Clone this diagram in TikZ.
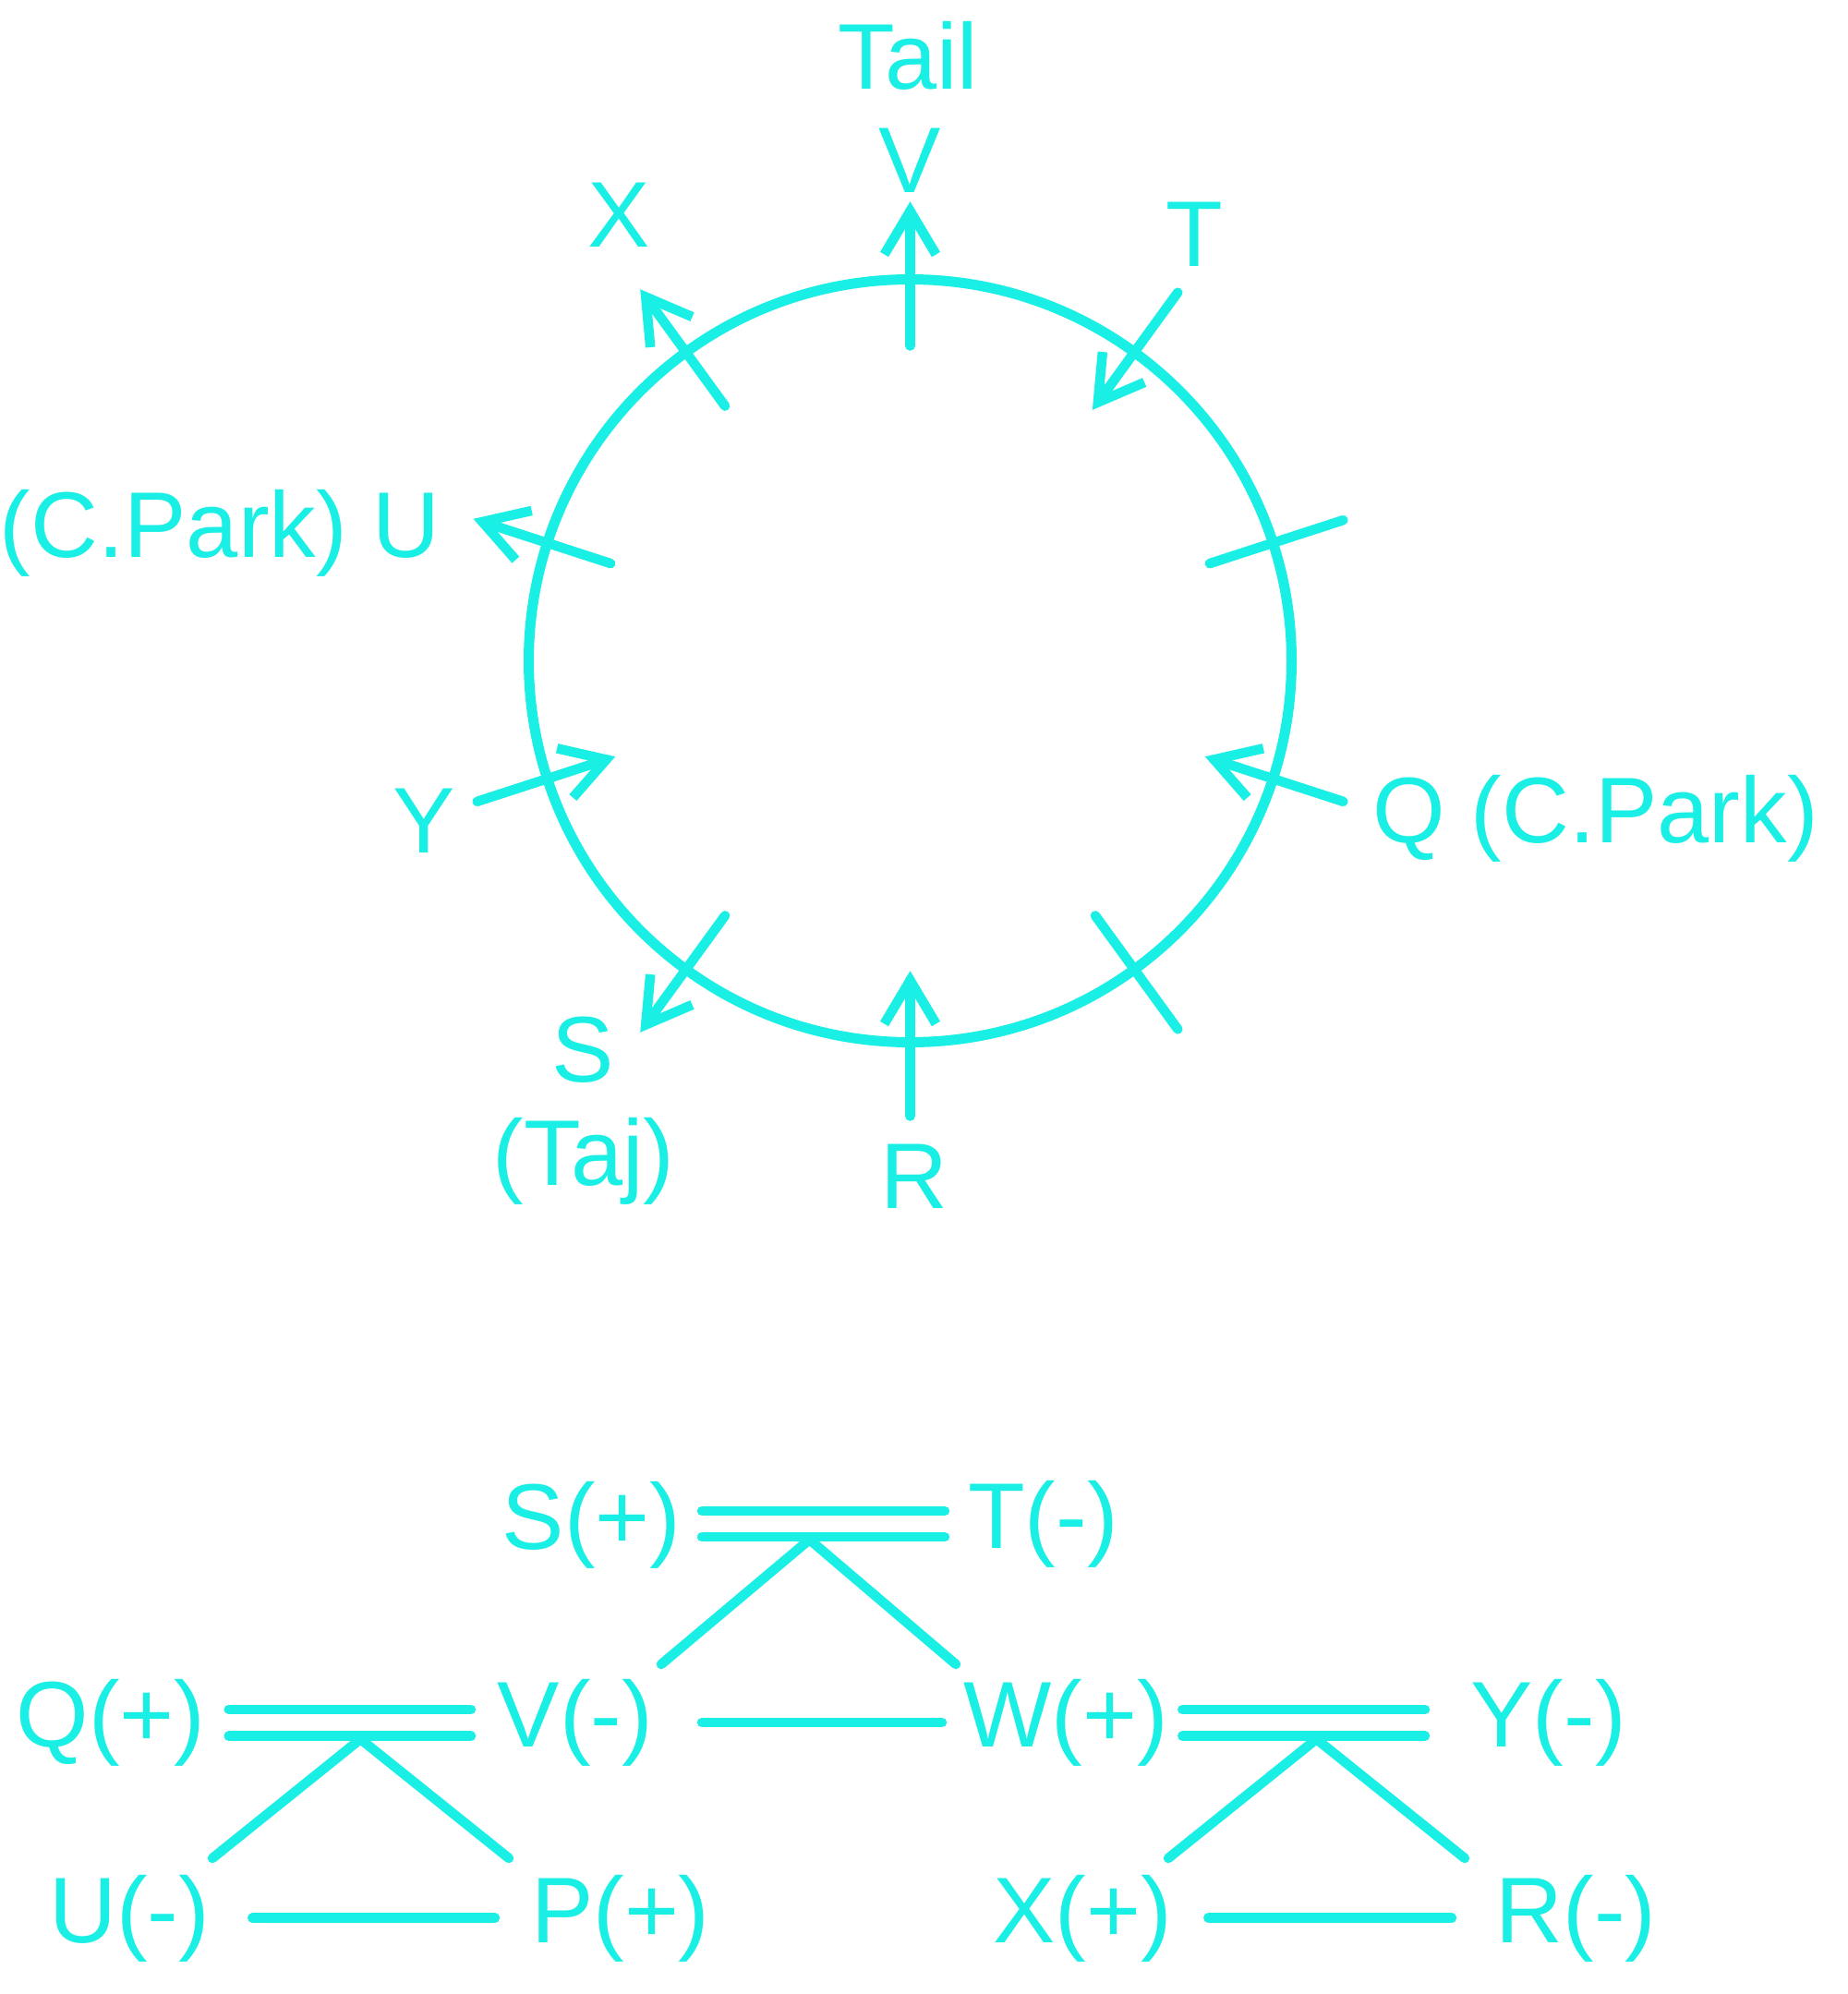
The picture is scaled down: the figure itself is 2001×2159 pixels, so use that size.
\documentclass[tikz,border=0pt]{standalone}
\usepackage{fontspec}
\setmainfont{Liberation Sans}
\usetikzlibrary{calc}
\definecolor{cy}{RGB}{26,239,230}
\begin{document}
\begin{tikzpicture}[x=1pt,y=-1pt,
  lbl/.style={text=cy, inner sep=0pt, anchor=base, font=\fontsize{101}{110}\selectfont},
  conn/.style={draw=cy, line width=10.5pt, line cap=round},
  ring/.style={draw=cy, line width=11pt},
  head/.style={draw=cy, line width=10.5pt, line cap=butt, line join=miter}]
\useasboundingbox (0,0) rectangle (2001,2159);

% ---------- circle with spokes ----------
\coordinate (O) at (985.5,715.5);
\draw[ring] (O) circle[radius=413];
\begin{scope}[shift={(O)}]
  % plain spokes
  \foreach \a in {18,-54}{
    \begin{scope}[rotate=\a]
      \draw[conn] (341,0) -- (493,0);
    \end{scope}}
  % outward arrows
  \foreach \a in {90,126,162,-126}{
    \begin{scope}[rotate=\a]
      \draw[conn] (341,0) -- (487,0);
      \draw[head] (440,28) -- (487,0) -- (440,-28);
    \end{scope}}
  % inward arrows
  \foreach \a in {54,-18,-90,-162}{
    \begin{scope}[rotate=\a]
      \draw[conn] (493,0) -- (346,0);
      \draw[head] (393,28) -- (346,0) -- (393,-28);
    \end{scope}}
\end{scope}

\node[lbl] (tail) at (983.5,97) {Tail};
\node[lbl] (cV) at (985.3,208.5) {V};
\node[lbl] (cX) at (670.5,268) {X};
\node[lbl] (cT) at (1293.5,288) {T};
\node[lbl, anchor=base east] (cU) at (477,603) {(C.Park) U};
\node[lbl] (cY) at (459,923.5) {Y};
\node[lbl, anchor=base west] (cQ) at (1486,912) {Q (C.Park)};
\node[lbl] (cS) at (631,1171) {S};
\node[lbl] (cTaj) at (632,1283) {(Taj)};
\node[lbl] (cR) at (990,1308) {R};

% ---------- bottom scheme ----------
\node[lbl] (S) at (640.5,1677) {S(+)};
\node[lbl] (T) at (1129.5,1676) {T(-)};
\node[lbl] (Q) at (120,1891) {Q(+)};
\node[lbl] (V) at (622.8,1891) {V(-)};
\node[lbl] (W) at (1154,1891) {W(+)};
\node[lbl] (Y) at (1676.7,1891) {Y(-)};
\node[lbl] (U) at (140,2103) {U(-)};
\node[lbl] (P) at (671.8,2103) {P(+)};
\node[lbl] (X) at (1171.9,2103) {X(+)};
\node[lbl] (R) at (1706.6,2103) {R(-)};

% S = T
\coordinate (st1a) at (760,1636);  \coordinate (st1b) at (1023,1636);
\coordinate (st2a) at (760,1664.2);\coordinate (st2b) at (1023,1664.2);
\coordinate (stap) at (876.5,1667);
\coordinate (stl) at (716,1802);   \coordinate (str) at (1035,1802);
\draw[conn] (st1a) -- (st1b);
\draw[conn] (st2a) -- (st2b);
\draw[conn] (stl) -- (stap) -- (str);

% Q = V
\coordinate (qv1a) at (247.7,1851);  \coordinate (qv1b) at (510,1851);
\coordinate (qv2a) at (247.7,1879.7);\coordinate (qv2b) at (510,1879.7);
\coordinate (qvap) at (390.3,1883);
\coordinate (qvl) at (230,2012);     \coordinate (qvr) at (551,2012);
\draw[conn] (qv1a) -- (qv1b);
\draw[conn] (qv2a) -- (qv2b);
\draw[conn] (qvl) -- (qvap) -- (qvr);

% V - W
\coordinate (vwa) at (760,1865); \coordinate (vwb) at (1020,1865);
\draw[conn] (vwa) -- (vwb);

% W = Y
\coordinate (wy1a) at (1280.3,1851);  \coordinate (wy1b) at (1543,1851);
\coordinate (wy2a) at (1280.3,1879.7);\coordinate (wy2b) at (1543,1879.7);
\coordinate (wyap) at (1425.4,1883);
\coordinate (wyl) at (1265,2012);     \coordinate (wyr) at (1586,2012);
\draw[conn] (wy1a) -- (wy1b);
\draw[conn] (wy2a) -- (wy2b);
\draw[conn] (wyl) -- (wyap) -- (wyr);

% U - P, X - R
\coordinate (upa) at (273.3,2076.7); \coordinate (upb) at (536,2076.7);
\draw[conn] (upa) -- (upb);
\coordinate (xra) at (1308.3,2076.7); \coordinate (xrb) at (1572,2076.7);
\draw[conn] (xra) -- (xrb);
\end{tikzpicture}
\end{document}
